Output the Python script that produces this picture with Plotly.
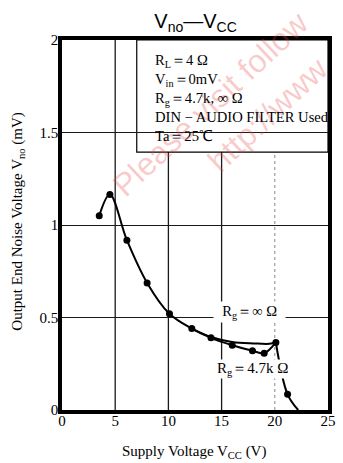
import plotly.graph_objects as go

# ---- data ----
VCC_47K = [3.5, 4.5, 6.1, 8.0, 10.1, 12.2, 14.0, 16.0, 17.9, 19.0, 20.1, 21.2, 22.2]
VNO_47K = [1.05, 1.165, 0.918, 0.687, 0.52, 0.44, 0.39, 0.35, 0.32, 0.307, 0.365, 0.085, 0.0]
N_MARKED = 12          # last point is the curve end, no marker
KNEE = 10              # index of the sharp corner at Vcc = 20 V

VCC_INF = [12.2, 14.0, 16.0, 18.0, 19.5, 20.1]
VNO_INF = [0.44, 0.395, 0.368, 0.36, 0.358, 0.365]

X_TICKS = [0, 5, 10, 15, 20, 25]
Y_TICKS = [0, 0.5, 1, 1.5, 2]
Y_TICKTEXT = ["0", "0.5", "1", "1.5", "2"]
GRID_X_SOLID = [5, 10, 15]
GRID_X_DOTTED = [20]

SERIF = "Liberation Serif, Times New Roman, serif"
SANS = "Liberation Sans, Arial, sans-serif"

fig = go.Figure()

line_style = dict(color="black", width=2, shape="spline", smoothing=1)

# Rg = infinity branch (line only)
fig.add_trace(go.Scatter(x=VCC_INF, y=VNO_INF, mode="lines",
                         line=line_style, showlegend=False, hoverinfo="skip"))
# Rg = 4.7k curve, smooth part
fig.add_trace(go.Scatter(x=VCC_47K[:KNEE + 1], y=VNO_47K[:KNEE + 1], mode="lines",
                         line=line_style, showlegend=False, hoverinfo="skip"))
# tail after the knee
fig.add_trace(go.Scatter(x=VCC_47K[KNEE:], y=VNO_47K[KNEE:], mode="lines",
                         line=line_style, showlegend=False, hoverinfo="skip"))
# markers
fig.add_trace(go.Scatter(x=VCC_47K[:N_MARKED], y=VNO_47K[:N_MARKED], mode="markers",
                         marker=dict(color="black", size=7), showlegend=False))

shapes = []
for gx in GRID_X_SOLID:
    shapes.append(dict(type="line", xref="x", yref="paper", x0=gx, x1=gx, y0=0, y1=1,
                       line=dict(color="#1a1a1a", width=1.3), layer="between"))
for gx in GRID_X_DOTTED:
    shapes.append(dict(type="line", xref="x", yref="paper", x0=gx, x1=gx, y0=0, y1=1,
                       line=dict(color="#888888", width=1, dash="dot"), layer="between"))
# condition box
shapes.append(dict(type="rect", xref="paper", yref="paper", x0=0.281, x1=1, y0=0.697, y1=1,
                   fillcolor="white", line=dict(color="black", width=1.2), layer="between"))

WM_FONT = dict(family=SANS, size=32, color="rgba(235,70,70,0.28)")

annotations = [
    # watermark
    dict(text="Please visit follow", xref="paper", yref="paper", x=0.558, y=0.827,
         xanchor="center", yanchor="middle", showarrow=False, textangle=-43, font=WM_FONT),
    dict(text="http://www", xref="paper", yref="paper", x=0.773, y=0.797,
         xanchor="center", yanchor="middle", showarrow=False, textangle=-43, font=WM_FONT),
    # condition text
    dict(text="R<sub>L</sub>＝4 Ω<br>V<sub>in</sub>＝0mV<br>R<sub>g</sub>＝4.7k, ∞ Ω<br>"
              "DIN − AUDIO FILTER Used<br>Ta＝25℃",
         xref="paper", yref="paper", x=0.342, y=0.972, xanchor="left", yanchor="top",
         align="left", showarrow=False, font=dict(family=SERIF, size=14.6, color="black")),
    # curve labels
    dict(text="&nbsp;&nbsp;R<sub>g</sub>＝∞ Ω&nbsp;&nbsp;", x=17.6, y=0.53, xref="x", yref="y",
         showarrow=False, bgcolor="white", borderpad=1,
         font=dict(family=SERIF, size=14.6, color="black")),
    dict(text="R<sub>g</sub>＝4.7k Ω", x=17.9, y=0.222, xref="x", yref="y",
         showarrow=False, bgcolor="white", borderpad=0,
         font=dict(family=SERIF, size=15, color="black")),
    # axis titles
    dict(text="Output End Noise Voltage V<sub>no</sub> (mV)", xref="paper", yref="paper",
         x=-0.164, y=0.51, xanchor="center", yanchor="middle", textangle=-90, showarrow=False,
         font=dict(family=SERIF, size=15, color="black")),
    dict(text="Supply Voltage V<sub>CC</sub> (V)", xref="paper", yref="paper",
         x=0.496, y=-0.114, xanchor="center", yanchor="middle", showarrow=False,
         font=dict(family=SERIF, size=15, color="black")),
]

fig.update_layout(
    width=343, height=463,
    margin=dict(l=62, r=7, t=40, b=53),
    paper_bgcolor="white", plot_bgcolor="white",
    title=dict(text="V<sub>no</sub>—V<sub>CC</sub>", x=0.502, xref="paper", xanchor="center",
               y=0.955, yref="container", yanchor="middle",
               font=dict(family=SANS, size=20, color="black")),
    shapes=shapes, annotations=annotations,
    xaxis=dict(range=[0, 25], tickvals=X_TICKS, showgrid=False, zeroline=False,
               showline=True, linecolor="black", linewidth=3.5, mirror=True, ticks="",
               ticklabelstandoff=-6,
               tickfont=dict(family=SERIF, size=15, color="black")),
    yaxis=dict(range=[0, 2], tickvals=Y_TICKS, ticktext=Y_TICKTEXT, showgrid=True,
               gridcolor="#1a1a1a", gridwidth=1.3, zeroline=False,
               showline=True, linecolor="black", linewidth=3.5, mirror=True, ticks="",
               ticklabelstandoff=-3,
               tickfont=dict(family=SERIF, size=15, color="black")),
)

fig.write_html("out.html")
